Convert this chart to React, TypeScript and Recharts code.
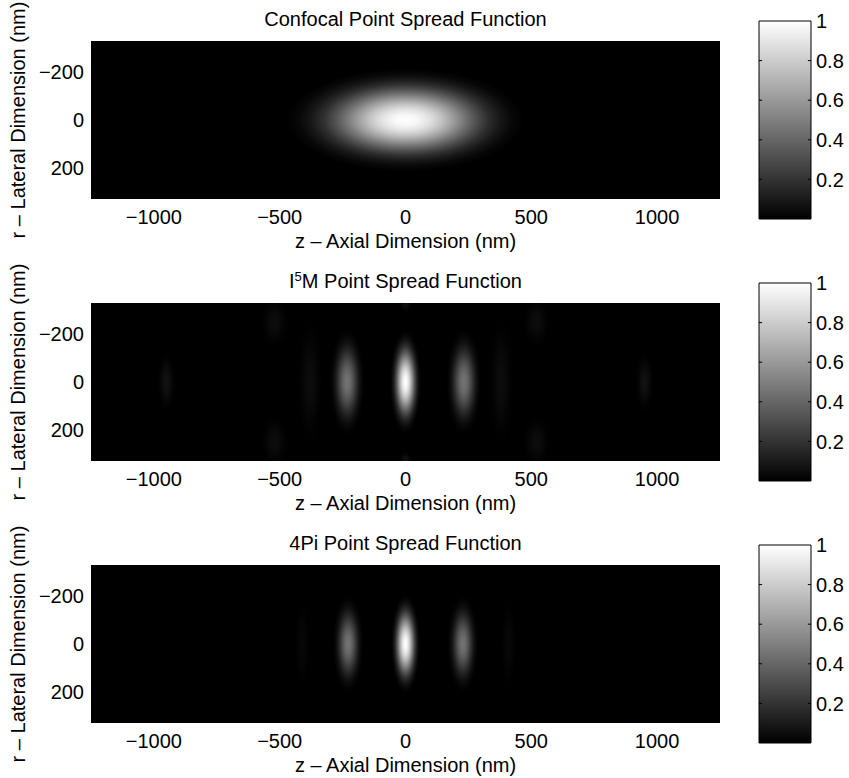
import React from "react"
import { ComposedChart, XAxis, YAxis, ReferenceArea, ReferenceLine, Label } from "recharts"

const zTicks = [-1000, -500, 0, 500, 1000]
const rTicks = [-200, 0, 200]
const colorTicks = [0.2, 0.4, 0.6, 0.8, 1]
const zRange = [-1250, 1250]
const rRange = [-330, 330]

type Lobe = { z: number; r: number; dz: number; dr: number; peak: number }

// lobes: centre (z, r), half extents, peak intensity
const confocalLobes: Lobe[] = [{ z: 0, r: 0, dz: 470, dr: 215, peak: 1 }]

const i5mLobes: Lobe[] = [
  { z: 0, r: 0, dz: 62, dr: 215, peak: 1 },
  { z: -232, r: 0, dz: 70, dr: 225, peak: 0.45 },
  { z: 232, r: 0, dz: 70, dr: 225, peak: 0.45 },
  { z: -380, r: 0, dz: 55, dr: 300, peak: 0.05 },
  { z: 380, r: 0, dz: 55, dr: 300, peak: 0.05 },
  { z: -520, r: -250, dz: 60, dr: 120, peak: 0.05 },
  { z: 520, r: -250, dz: 60, dr: 120, peak: 0.05 },
  { z: -520, r: 250, dz: 60, dr: 120, peak: 0.05 },
  { z: 520, r: 250, dz: 60, dr: 120, peak: 0.05 },
  { z: -950, r: 0, dz: 40, dr: 140, peak: 0.07 },
  { z: 950, r: 0, dz: 40, dr: 140, peak: 0.07 },
  { z: 0, r: -325, dz: 30, dr: 40, peak: 0.06 },
  { z: 0, r: 325, dz: 30, dr: 40, peak: 0.06 },
]

const fourPiLobes: Lobe[] = [
  { z: 0, r: 0, dz: 58, dr: 205, peak: 1 },
  { z: -228, r: 0, dz: 62, dr: 205, peak: 0.45 },
  { z: 228, r: 0, dz: 62, dr: 205, peak: 0.45 },
  { z: -410, r: 0, dz: 35, dr: 220, peak: 0.03 },
  { z: 410, r: 0, dz: 35, dr: 220, peak: 0.03 },
]

// radial fall-off of one lobe, centre -> edge
const falloff = [1, 0.97, 0.89, 0.77, 0.62, 0.46, 0.31, 0.18, 0.09, 0.03, 0]

const font = "'Liberation Sans', Arial, sans-serif"
const fs = 20

const minus = (v: number) => String(v).replace("-", "\u2212")

function LobeShape(props: any) {
  const { x, y, width, height, gid, peak } = props
  return (
    <g>
      <defs>
        <radialGradient id={gid} cx="0.5" cy="0.5" r="0.5">
          {falloff.map((a, k) => (
            <stop key={k} offset={k / (falloff.length - 1)} stopColor="#fff" stopOpacity={a * peak} />
          ))}
        </radialGradient>
      </defs>
      <ellipse cx={x + width / 2} cy={y + height / 2} rx={Math.abs(width) / 2} ry={Math.abs(height) / 2} fill={`url(#${gid})`} />
    </g>
  )
}

function Panel({ top, title, lobes, tag }: { top: number; title: React.ReactNode; lobes: Lobe[]; tag: string }) {
  return (
    <div style={{ position: "absolute", left: 0, top, width: 849, height: 262 }}>
      <div
        style={{
          position: "absolute",
          left: 91,
          width: 629,
          top: 9,
          textAlign: "center",
          fontSize: fs,
          lineHeight: "20px",
          fontFamily: font,
          color: "#000",
        }}
      >
        {title}
      </div>
      <div style={{ position: "absolute", left: 0, top: 0 }}>
        <ComposedChart width={740} height={262} margin={{ top: 41, right: 20, bottom: 13, left: 31 }} data={lobes}>
          <XAxis
            type="number"
            dataKey="z"
            domain={zRange}
            ticks={zTicks}
            allowDataOverflow
            interval={0}
            height={50}
            tickLine={false}
            axisLine={false}
            tickSize={0}
            tickMargin={11}
            tick={{ fill: "#000", fontSize: fs, fontFamily: font }}
            tickFormatter={minus}
            label={
              <Label
                content={(p: any) => (
                  <text
                    x={p.viewBox.x + p.viewBox.width / 2}
                    y={p.viewBox.y + 42}
                    textAnchor="middle"
                    dominantBaseline="central"
                    fontSize={fs}
                    fontFamily={font}
                    fill="#000"
                  >
                    z – Axial Dimension (nm)
                  </text>
                )}
              />
            }
          />
          <YAxis
            type="number"
            dataKey="r"
            domain={rRange}
            ticks={rTicks}
            reversed
            allowDataOverflow
            interval={0}
            width={60}
            tickLine={false}
            axisLine={false}
            tickSize={0}
            tickMargin={7}
            tick={{ fill: "#000", fontSize: fs, fontFamily: font }}
            tickFormatter={minus}
            label={
              <Label
                content={(p: any) => {
                  const cx = p.viewBox.x - 13
                  const cy = p.viewBox.y + p.viewBox.height / 2
                  return (
                    <text
                      x={cx}
                      y={cy}
                      transform={`rotate(-90 ${cx} ${cy})`}
                      textAnchor="middle"
                      dominantBaseline="central"
                      fontSize={fs}
                      fontFamily={font}
                      fill="#000"
                    >
                      r – Lateral Dimension (nm)
                    </text>
                  )
                }}
              />
            }
          />
          <ReferenceArea
            x1={zRange[0]}
            x2={zRange[1]}
            y1={rRange[0]}
            y2={rRange[1]}
            fill="#000"
            fillOpacity={1}
            stroke="none"
          />
          {lobes.map((l, i) => (
            <ReferenceArea
              key={i}
              x1={l.z - l.dz}
              x2={l.z + l.dz}
              y1={l.r - l.dr}
              y2={l.r + l.dr}
              ifOverflow="hidden"
              shape={(p: any) => <LobeShape {...p} gid={`${tag}-${i}`} peak={l.peak} />}
            />
          ))}
        </ComposedChart>
      </div>
      <div style={{ position: "absolute", left: 700, top: 0 }}>
        <ComposedChart width={149} height={262} margin={{ top: 21, right: 0, bottom: 43, left: 59 }} data={colorTicks.map((v) => ({ v }))}>
          <defs>
            <linearGradient id={`${tag}-cb`} x1="0" y1="0" x2="0" y2="1">
              <stop offset="0" stopColor="#fff" />
              <stop offset="1" stopColor="#000" />
            </linearGradient>
          </defs>
          <XAxis type="number" dataKey="v" domain={[0, 1]} allowDataOverflow hide />
          <YAxis
            type="number"
            dataKey="v"
            orientation="right"
            domain={[0, 1]}
            ticks={colorTicks}
            allowDataOverflow
            interval={0}
            width={38}
            tickLine={false}
            axisLine={false}
            tickSize={0}
            tickMargin={5}
            tick={{ fill: "#000", fontSize: fs, fontFamily: font }}
            tickFormatter={(v: number) => String(v)}
          />
          <ReferenceArea x1={0} x2={1} y1={0} y2={1} fill={`url(#${tag}-cb)`} fillOpacity={1} stroke="#000" strokeWidth={1} />
          {colorTicks.slice(0, 4).map((v) => (
            <ReferenceLine key={`l${v}`} segment={[{ x: 0, y: v }, { x: 0.06, y: v }]} stroke="#000" />
          ))}
          {colorTicks.slice(0, 4).map((v) => (
            <ReferenceLine key={`r${v}`} segment={[{ x: 0.94, y: v }, { x: 1, y: v }]} stroke="#000" />
          ))}
        </ComposedChart>
      </div>
    </div>
  )
}

export default function App() {
  return (
    <div
      style={{
        position: "absolute",
        left: 0,
        top: 0,
        width: 849,
        height: 778,
        background: "#fff",
        overflow: "hidden",
        fontFamily: font,
      }}
    >
      <Panel top={0} tag="conf" lobes={confocalLobes} title="Confocal Point Spread Function" />
      <Panel
        top={262}
        tag="i5m"
        lobes={i5mLobes}
        title={
          <span>
            I<sup style={{ fontSize: 13, verticalAlign: 7, lineHeight: 0 }}>5</sup>M Point Spread Function
          </span>
        }
      />
      <Panel top={524} tag="fourpi" lobes={fourPiLobes} title="4Pi Point Spread Function" />
    </div>
  )
}
